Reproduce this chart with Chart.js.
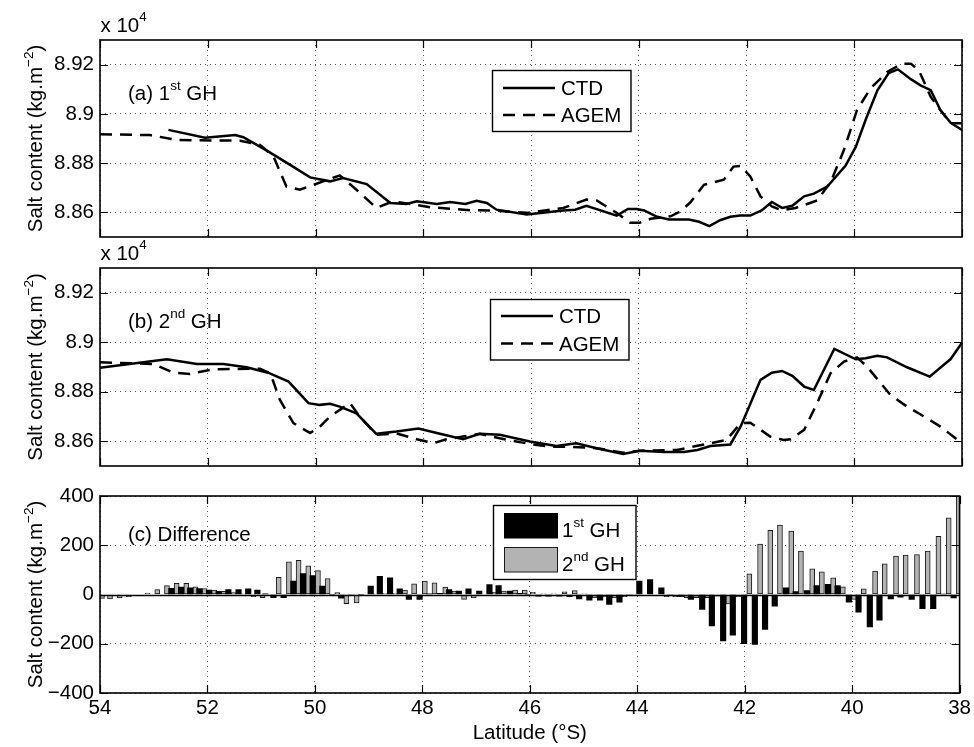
<!DOCTYPE html>
<html><head><meta charset="utf-8">
<script src="https://cdn.jsdelivr.net/npm/chart.js@4.4.0/dist/chart.umd.min.js"></script>
<style>html,body{margin:0;padding:0;background:#fff;overflow:hidden;width:974px;height:747px}canvas{position:absolute;left:0;top:0}</style>
</head><body>
<canvas id="ca" width="974" height="747"></canvas>
<canvas id="cb" width="974" height="747"></canvas>
<canvas id="cc" width="974" height="747"></canvas>
<script>
// ---------------- data ----------------
const latTicks = [54, 52, 50, 48, 46, 44, 42, 40, 38];
const saltTicks = [8.86, 8.88, 8.90, 8.92];
const diffTicks = [-400, -200, 0, 200, 400];

// panel (a) 1st GH  (salt content, x 10^4 kg.m^-2)
const ctdA_lat = [52.73,52.05,51.49,51.34,50.91,50.47,50.10,49.73,49.49,49.05,48.61,48.31,48.12,47.75,47.50,47.22,47.01,46.82,46.64,46.08,45.40,45.18,44.97,44.41,44.20,44.04,43.90,43.66,43.44,43.07,42.88,42.69,42.49,42.30,42.12,41.93,41.72,41.53,41.34,41.15,40.93,40.75,40.50,40.16,39.97,39.79,39.57,39.36,39.19,38.95,38.77,38.58,38.40,38.21,38.00];
const ctdA = [8.8935,8.8903,8.8914,8.8905,8.8852,8.8793,8.8742,8.8726,8.8739,8.8715,8.8638,8.8634,8.8645,8.8634,8.8642,8.8634,8.8647,8.8638,8.8611,8.8591,8.8608,8.8611,8.8627,8.8587,8.8614,8.8614,8.8608,8.8582,8.8571,8.8571,8.8562,8.8544,8.8568,8.8582,8.8587,8.8587,8.8608,8.8642,8.8618,8.8627,8.8665,8.8676,8.8705,8.8790,8.8867,8.8975,8.9096,8.9166,8.9181,8.9141,8.9116,8.9096,8.9015,8.8964,8.8935];
const agemA_lat = [54.00,53.07,52.58,51.40,51.03,50.78,50.54,50.29,49.55,49.24,48.87,48.56,47.87,47.13,46.64,46.08,45.40,44.97,44.78,44.41,44.16,43.98,43.78,43.41,43.22,43.04,42.79,42.42,42.24,42.11,41.93,41.74,41.53,41.34,41.09,40.69,40.44,40.19,39.95,39.70,39.39,39.11,38.95,38.80,38.58,38.40,38.21,38.00];
const agemA = [8.8917,8.8914,8.8894,8.8891,8.8874,8.8827,8.8705,8.8692,8.8750,8.8692,8.8618,8.8645,8.8621,8.8609,8.8607,8.8598,8.8618,8.8652,8.8648,8.8598,8.8558,8.8558,8.8574,8.8584,8.8605,8.8641,8.8712,8.8733,8.8786,8.8789,8.8746,8.8665,8.8624,8.8608,8.8618,8.8648,8.8722,8.8854,8.9015,8.9103,8.9170,8.9204,8.9204,8.9177,8.9069,8.9015,8.8962,8.8962];

// panel (b) 2nd GH
const ctdB_lat = [54.00,52.76,52.20,51.71,51.28,50.88,50.50,50.13,49.92,49.73,49.55,49.24,48.87,48.50,48.09,47.69,47.26,46.95,46.58,46.02,45.53,45.16,44.78,44.29,43.98,43.53,43.16,42.91,42.67,42.30,42.11,41.74,41.53,41.34,41.15,40.93,40.75,40.37,39.97,39.79,39.57,39.39,39.02,38.60,38.21,38.00];
const ctdB = [8.8897,8.8931,8.8912,8.8912,8.8899,8.8877,8.8841,8.8754,8.8747,8.8751,8.8740,8.8713,8.8630,8.8639,8.8651,8.8630,8.8608,8.8630,8.8626,8.8599,8.8581,8.8592,8.8572,8.8549,8.8562,8.8557,8.8557,8.8565,8.8581,8.8587,8.8659,8.8848,8.8877,8.8884,8.8864,8.8821,8.8807,8.8973,8.8931,8.8935,8.8945,8.8939,8.8899,8.8861,8.8932,8.8998];
const agemB_lat = [54.00,53.01,52.64,52.33,51.90,51.03,50.84,50.66,50.41,50.10,49.92,49.73,49.36,49.18,48.87,48.50,48.12,47.81,47.57,47.26,46.95,46.58,46.02,45.65,45.28,44.78,44.29,43.98,43.29,42.67,42.37,42.11,41.93,41.56,41.31,41.18,40.93,40.69,40.44,40.19,39.95,39.76,39.33,39.02,38.65,38.40,38.00];
const agemB = [8.8919,8.8912,8.8877,8.8872,8.8891,8.8893,8.8875,8.8767,8.8673,8.8633,8.8659,8.8700,8.8754,8.8700,8.8626,8.8632,8.8608,8.8592,8.8608,8.8619,8.8630,8.8612,8.8589,8.8578,8.8578,8.8572,8.8554,8.8562,8.8565,8.8592,8.8605,8.8673,8.8675,8.8619,8.8605,8.8608,8.8646,8.8754,8.8875,8.8922,8.8939,8.8901,8.8787,8.8740,8.8693,8.8659,8.8592];

// panel (c) difference (kg.m^-2)
const diffLat = [54.01,53.86,53.68,53.51,53.34,53.16,52.98,52.80,52.62,52.44,
52.27,52.10,51.92,51.74,51.56,51.37,51.19,51.02,50.87,50.72,
50.53,50.35,50.17,49.99,49.81,49.63,49.46,49.27,49.09,48.91,
48.74,48.55,48.37,48.20,48.00,47.82,47.62,47.45,47.27,47.09,
46.89,46.70,46.53,46.32,46.14,45.99,45.79,45.60,45.40,45.21,
45.03,44.84,44.64,44.47,44.28,44.10,43.91,43.71,43.50,43.34,
43.13,42.95,42.74,42.56,42.35,42.17,41.96,41.76,41.57,41.39,
41.18,41.00,40.79,40.61,40.40,40.22,40.01,39.83,39.62,39.44,
39.23,39.05,38.84,38.64,38.44,38.25,38.06];
const diff1 = [null,null,null,null,null,null,null,null,25,30,
27,24,18,13,20,20,23,18,3,-13,
-13,54,85,77,34,0,-15,-5,0,34,
74,68,23,-20,-20,3,5,20,14,23,
14,40,36,14,5,0,-7,-7,-7,-9,
-18,-23,-23,-40,-31,-5,54,61,27,-3,
-9,-20,-61,-128,-189,-165,-200,-203,-142,-47,
27,12,16,36,41,36,-31,-72,-132,-104,
-18,-11,-20,-58,-58,2,-14];
const diff2 = [-16,-18,-14,-9,0,6,20,36,45,45,
31,24,18,13,8,3,-9,-13,-3,70,
133,139,116,97,65,8,-37,-34,0,3,
5,5,18,43,54,47,30,14,-20,-14,
0,9,14,18,18,9,3,3,11,16,
3,-14,-9,-14,-9,-3,0,0,-9,-9,
-13,-13,-13,-7,-38,-9,84,205,261,282,
258,176,104,92,68,31,-20,23,95,125,
156,160,162,176,236,311,420];

// ---------------- helpers ----------------
const FONT = '"Liberation Sans", Arial, Helvetica, sans-serif';
const FS = 20.5, SUP = 13.5;
Chart.defaults.font.family = FONT;
Chart.defaults.font.size = FS;
Chart.defaults.color = '#000';
const pts = (xs, ys) => xs.map((x, i) => ({x: x, y: ys[i]}));

function richWidth(ctx, parts, size, sup) {
  let w = 0;
  for (const [t, s] of parts) { ctx.font = (s ? sup : size) + 'px ' + FONT; w += ctx.measureText(t).width; }
  return w;
}
function drawRich(ctx, parts, x, y, size, sup, rise) {
  let cx = x;
  ctx.textBaseline = 'alphabetic'; ctx.textAlign = 'left'; ctx.fillStyle = '#000';
  for (const [t, s] of parts) {
    ctx.font = (s ? sup : size) + 'px ' + FONT;
    ctx.fillText(t, cx, s ? y - rise : y);
    cx += ctx.measureText(t).width;
  }
}
function yTitle(ctx, cy) {
  const parts = [['Salt content (kg.m', false], ['\u22122', true], [')', false]];
  ctx.save();
  ctx.translate(42, cy); ctx.rotate(-Math.PI / 2);
  const w = richWidth(ctx, parts, FS, SUP);
  drawRich(ctx, parts, -w / 2, 0, FS, SUP, 9);
  ctx.restore();
}
function frameTicks(chart, yVals) {
  const {ctx, chartArea: a, scales: {x, y}} = chart;
  ctx.save();
  ctx.setLineDash([]);
  ctx.strokeStyle = '#000';
  ctx.lineWidth = 1.2;
  ctx.beginPath();
  for (const v of latTicks) {
    const px = Math.round(x.getPixelForValue(v)) + 0.5;
    ctx.moveTo(px, a.bottom); ctx.lineTo(px, a.bottom - 8);
    ctx.moveTo(px, a.top); ctx.lineTo(px, a.top + 8);
  }
  for (const v of yVals) {
    const py = Math.round(y.getPixelForValue(v)) + 0.5;
    ctx.moveTo(a.left, py); ctx.lineTo(a.left + 8, py);
    ctx.moveTo(a.right, py); ctx.lineTo(a.right - 8, py);
  }
  ctx.stroke();
  ctx.lineWidth = 1.6;
  ctx.strokeRect(a.left, a.top, a.right - a.left, a.bottom - a.top);
  ctx.restore();
}
function lineLegend(ctx, bx, by, bw, bh, lx1, lx2, y1, y2, tx, b1, b2) {
  ctx.save();
  ctx.fillStyle = '#fff'; ctx.fillRect(bx, by, bw, bh);
  ctx.strokeStyle = '#000'; ctx.lineWidth = 1.4; ctx.setLineDash([]);
  ctx.strokeRect(bx, by, bw, bh);
  ctx.lineWidth = 2.5;
  ctx.beginPath(); ctx.moveTo(lx1, y1); ctx.lineTo(lx2, y1); ctx.stroke();
  ctx.setLineDash([12, 8]);
  ctx.beginPath(); ctx.moveTo(lx1, y2); ctx.lineTo(lx2, y2); ctx.stroke();
  ctx.setLineDash([]);
  drawRich(ctx, [['CTD', false]], tx, b1, FS, SUP, 9);
  drawRich(ctx, [['AGEM', false]], tx, b2, FS, SUP, 9);
  ctx.restore();
}

const gridOpts = {color: '#555', lineWidth: 1, drawTicks: false};

function lineChart(id, top, bottom, cLat, c, gLat, g, tag, sup, legendArgs) {
  return new Chart(document.getElementById(id), {
    type: 'line',
    data: {datasets: [
      {label: 'CTD', data: pts(cLat, c), borderColor: '#000', borderWidth: 2.5, pointRadius: 0, tension: 0, fill: false},
      {label: 'AGEM', data: pts(gLat, g), borderColor: '#000', borderWidth: 2.5, borderDash: [12, 8], pointRadius: 0, tension: 0, fill: false}
    ]},
    options: {
      responsive: false, animation: false, devicePixelRatio: 1,
      layout: {padding: {left: 0, right: 12, top: top, bottom: 747 - bottom}},
      plugins: {legend: {display: false}, tooltip: {enabled: false}},
      scales: {
        x: {type: 'linear', reverse: true, min: 38, max: 54,
            afterBuildTicks: s => { s.ticks = latTicks.map(v => ({value: v})); },
            afterFit: s => { s.height = 0; },
            ticks: {display: false}, grid: gridOpts, border: {display: false, dash: [1, 4]}},
        y: {type: 'linear', min: 8.85, max: 8.93,
            afterBuildTicks: s => { s.ticks = saltTicks.map(v => ({value: v})); },
            afterFit: s => { s.width = 100; },
            ticks: {padding: 6, callback: v => String(+(+v).toFixed(2))},
            grid: gridOpts, border: {display: false, dash: [1, 4]}}
      }
    },
    plugins: [{
      id: 'decor' + id,
      afterDraw(chart) {
        const ctx = chart.ctx, a = chart.chartArea;
        frameTicks(chart, saltTicks);
        yTitle(ctx, (a.top + a.bottom) / 2);
        drawRich(ctx, [['x 10', false], ['4', true]], 100.5, a.top - 8, FS, SUP, 11);
        drawRich(ctx, [[tag, false], [sup, true], [' GH', false]], 128, a.top + 59.5, FS, SUP, 10);
        lineLegend(ctx, ...legendArgs);
      }
    }]
  });
}

lineChart('ca', 40, 237, ctdA_lat, ctdA, agemA_lat, agemA, '(a) 1', 'st',
  [492.5, 70.5, 138.5, 61, 503, 555, 88, 115, 561, 95, 122]);
lineChart('cb', 268, 466, ctdB_lat, ctdB, agemB_lat, agemB, '(b) 2', 'nd',
  [490.5, 299.5, 138.5, 60.5, 501, 553, 316, 343.5, 559, 323, 350.5]);

new Chart(document.getElementById('cc'), {
  type: 'bar',
  data: {datasets: [
    {label: '1st GH', data: pts(diffLat, diff1), backgroundColor: '#000', borderWidth: 0, barThickness: 5.5, clip: 0},
    {label: '2nd GH', data: pts(diffLat, diff2), backgroundColor: '#b3b3b3', borderColor: '#1a1a1a', borderWidth: 1, borderSkipped: false, barThickness: 5, clip: 0}
  ]},
  options: {
    responsive: false, animation: false, devicePixelRatio: 1,
    layout: {padding: {left: 0, right: 12, top: 496, bottom: 0}},
    plugins: {legend: {display: false}, tooltip: {enabled: false}},
    scales: {
      x: {type: 'linear', reverse: true, min: 38, max: 54, offset: false,
          afterBuildTicks: s => { s.ticks = latTicks.map(v => ({value: v})); },
          afterFit: s => { s.height = 54; },
          ticks: {padding: 3, autoSkip: false, maxRotation: 0, callback: v => String(v)},
          grid: Object.assign({offset: false}, gridOpts), border: {display: false, dash: [1, 4]}},
      y: {type: 'linear', min: -400, max: 400,
          afterBuildTicks: s => { s.ticks = diffTicks.map(v => ({value: v})); },
          afterFit: s => { s.width = 100; },
          ticks: {padding: 6, callback: v => (v < 0 ? '\u2212' + Math.abs(v) : String(v))},
          grid: Object.assign({}, gridOpts, {color: c => (c.tick && c.tick.value === 0 ? 'rgba(0,0,0,0)' : '#555')}),
          border: {display: false, dash: [1, 4]}}
    }
  },
  plugins: [{
    id: 'decorC',
    afterDatasetsDraw(chart) {
      const {ctx, chartArea: a, scales: {y}} = chart;
      const y0 = Math.round(y.getPixelForValue(0)) + 0.5;
      ctx.save(); ctx.strokeStyle = '#000'; ctx.lineWidth = 1.3; ctx.setLineDash([]);
      ctx.beginPath(); ctx.moveTo(a.left, y0); ctx.lineTo(a.right, y0); ctx.stroke(); ctx.restore();
    },
    afterDraw(chart) {
      const ctx = chart.ctx, a = chart.chartArea;
      frameTicks(chart, diffTicks);
      yTitle(ctx, (a.top + a.bottom) / 2);
      drawRich(ctx, [['(c) Difference', false]], 128, 541, FS, SUP, 10);
      // x title
      ctx.save();
      ctx.font = FS + 'px ' + FONT; ctx.textAlign = 'center'; ctx.textBaseline = 'alphabetic'; ctx.fillStyle = '#000';
      ctx.fillText('Latitude (\u00B0S)', (a.left + a.right) / 2, 739);
      ctx.restore();
      // legend
      ctx.save();
      ctx.fillStyle = '#fff'; ctx.fillRect(493.5, 505.5, 142.5, 74);
      ctx.strokeStyle = '#000'; ctx.lineWidth = 1.4; ctx.strokeRect(493.5, 505.5, 142.5, 74);
      ctx.fillStyle = '#000'; ctx.fillRect(504, 513, 54, 25.5);
      ctx.fillStyle = '#b3b3b3'; ctx.fillRect(504.5, 547.5, 53, 24.5);
      ctx.lineWidth = 1; ctx.strokeStyle = '#1a1a1a'; ctx.strokeRect(504.5, 547.5, 53, 24.5);
      ctx.restore();
      drawRich(ctx, [['1', false], ['st', true], [' GH', false]], 562, 536.5, FS, SUP, 10);
      drawRich(ctx, [['2', false], ['nd', true], [' GH', false]], 562, 570.5, FS, SUP, 10);
    }
  }]
});
</script>
</body></html>
